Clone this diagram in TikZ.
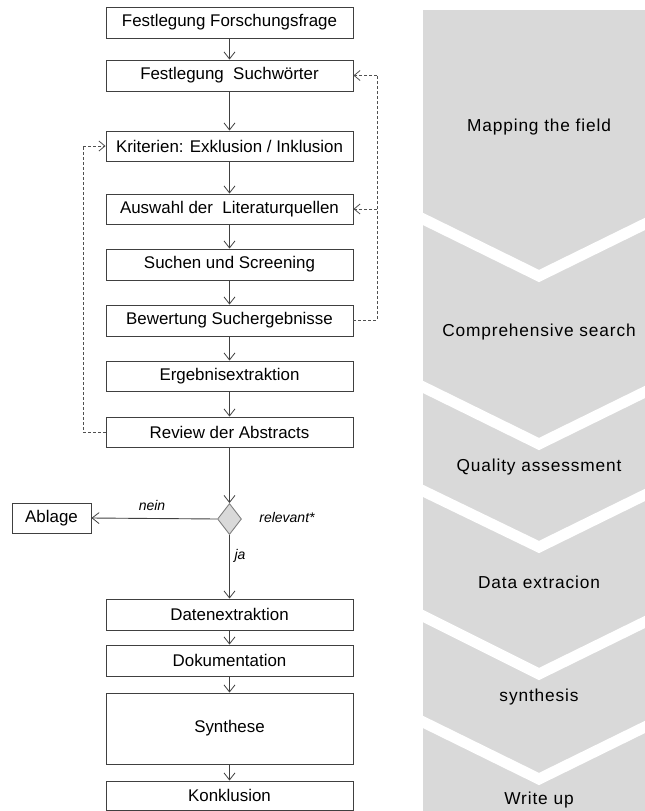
\documentclass[tikz,border=0pt]{standalone}
\usepackage{fontspec}
\setmainfont{Liberation Sans}
\usetikzlibrary{arrows.meta,shapes.geometric}
\definecolor{panelgray}{HTML}{D9D9D9}
\definecolor{linegray}{HTML}{404040}
\definecolor{dashgray}{HTML}{505050}
\begin{document}
\begin{tikzpicture}[x=1pt,y=-1pt,
  stepbox/.style={draw=linegray,line width=0.9pt,rectangle,minimum width=247pt,inner sep=0pt,
    font=\fontsize{16.9}{18}\selectfont,text=black},
  flow/.style={draw=linegray,line width=0.9pt,-{Straight Barb[length=7pt,width=11pt,line width=0.8pt]}},
  back/.style={draw=dashgray,line width=1pt,dash pattern=on 3pt off 2pt,-{Straight Barb[length=6pt,width=10pt,line width=0.8pt]}},
  backline/.style={draw=dashgray,line width=1pt,dash pattern=on 3pt off 2pt},
  phase/.style={font=\fontsize{17.3}{19}\addfontfeatures{LetterSpace=5}\selectfont,text=black},
  lab/.style={font=\fontsize{14}{16}\itshape,text=black,inner sep=0pt}
]
\useasboundingbox (0,0) rectangle (645,811);
% right panel
\begin{scope}
\clip (423,10) rectangle (645,811);
\fill[panelgray] (423,10) rectangle (645,811);
\foreach \yl/\ya in {219/276,387/444,491/547,616/674,722/779}{
  \draw[white,line width=11pt] (415,{\yl-4}) -- (539,\ya) -- (655,{\ya-57});
}
\end{scope}
\node[phase] (p1) at (539,127) {Mapping the field};
\node[phase] (p2) at (539,332) {Comprehensive search};
\node[phase] (p3) at (539,467) {Quality assessment};
\node[phase] (p4) at (539,582) {Data extracion};
\node[phase] (p5) at (539,697) {synthesis};
\node[phase] (p6) at (539,800) {Write up};
% flow boxes
\node[stepbox,minimum height=31pt] (b1) at (229.5,22.5) {Festlegung Forschungsfrage};
\node[stepbox,minimum height=31pt] (b2) at (229.5,75.5) {Festlegung\ \ Suchwörter};
\node[stepbox,minimum height=30pt] (b3) at (229.5,146) {Kriterien: Exklusion / Inklusion};
\node[stepbox,minimum height=30pt] (b4) at (229.5,209) {Auswahl der\ \ Literaturquellen};
\node[stepbox,minimum height=31pt] (b5) at (229.5,264.5) {Suchen und Screening};
\node[stepbox,minimum height=31pt] (b6) at (229.5,320.5) {Bewertung Suchergebnisse};
\node[stepbox,minimum height=30pt] (b7) at (229.5,376) {Ergebnisextraktion};
\node[stepbox,minimum height=30pt] (b8) at (229.5,432) {Review der Abstracts};
\node[diamond,draw=gray,fill=panelgray,line width=0.9pt,minimum width=24pt,minimum height=31pt,inner sep=0pt] (d) at (229.5,519) {};
\node[stepbox,minimum width=79pt,minimum height=30pt] (abl) at (51.5,518) {Ablage};
\node[stepbox,minimum height=31pt] (b9) at (229.5,614.5) {Datenextraktion};
\node[stepbox,minimum height=31pt] (b10) at (229.5,660.5) {Dokumentation};
\node[stepbox,minimum height=71pt] (b11) at (229.5,728.5) {Synthese};
\node[stepbox,minimum height=29pt] (b12) at (229.5,795.5) {Konklusion};
% labels
\node[lab] (lnein) at (152,505) {nein};
\node[lab] (lrel) at (287,517) {relevant*};
\node[lab] (lja) at (240,556) {ja};
% flow arrows
\draw[flow] (b1) -- (b2);
\draw[flow] (b2) -- (b3);
\draw[flow] (b3) -- (b4);
\draw[flow] (b4) -- (b5);
\draw[flow] (b5) -- (b6);
\draw[flow] (b6) -- (b7);
\draw[flow] (b7) -- (b8);
\draw[flow] (b8) -- (d.north);
\draw[flow] (d.west) -- (abl.east);
\draw[flow] (d.south) -- (b9);
\draw[flow] (b9) -- (b10);
\draw[flow] (b10) -- (b11);
\draw[flow] (b11) -- (b12);
% feedback loops
\coordinate (rc) at (377,320.5);
\coordinate (rt) at (377,75.5);
\coordinate (rm) at (377,209);
\coordinate (lc) at (83,432);
\coordinate (lt) at (83,146);
\draw[backline] (b6.east) -- (rc) -- (rt);
\draw[back] (rt) -- (b2.east);
\draw[back] (rm) -- (b4.east);
\draw[backline] (b8.west) -- (lc) -- (lt);
\draw[back] (lt) -- (b3.west);
\end{tikzpicture}
\end{document}
